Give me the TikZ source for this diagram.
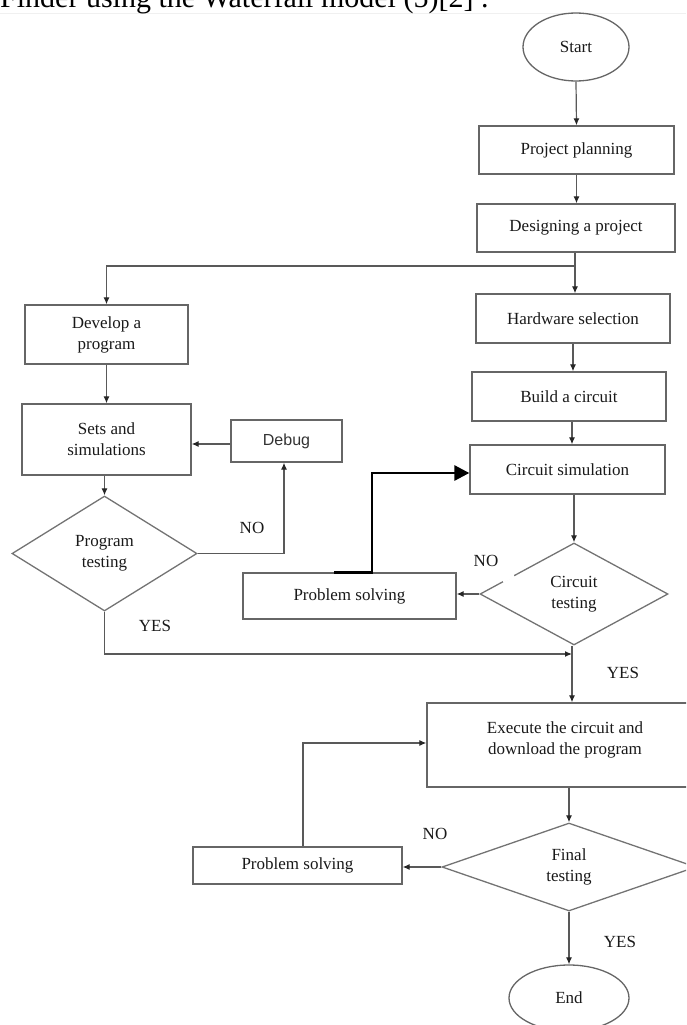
\documentclass[tikz,border=0pt]{standalone}
\usepackage{fontspec}
\setmainfont{Liberation Serif}
\newfontfamily\debugfont{Liberation Sans}
\usetikzlibrary{shapes.geometric,arrows.meta}
\begin{document}
\begin{tikzpicture}[x=1pt,y=-1pt,
  txt/.style={font=\fontsize{17}{21}\selectfont, text=black!90, align=center},
  box/.style={draw=black!60, line width=1.3pt, rectangle, inner sep=0pt, txt},
  oval/.style={draw=black!60, line width=1.3pt, ellipse, inner sep=0pt, txt},
  dec/.style={draw=black!55, line width=1.3pt, diamond, inner sep=0pt, txt},
  lbl/.style={txt, inner sep=0pt},
  arr/.style={draw=black!65, line width=1.2pt, -{Latex[length=7pt,width=6pt,color=black!85]}},
  plain/.style={draw=black!65, line width=1.2pt},
  thickarr/.style={draw=black, line width=2.8pt, -{Triangle[length=15pt,width=15pt]}}
]
\useasboundingbox (0,0) rectangle (686,1025);
\clip (0,0) rectangle (686,1025);
\draw[black!6, line width=1.5pt] (0,13.5) -- (686,13.5);
\node[anchor=base west, inner sep=0pt, font=\fontsize{30}{30}\selectfont] (title) at (0,7.5) {Finder using the Waterfall model (5)[2] .};

% right column
\node[oval, minimum width=106, minimum height=68] (start) at (576,47) {Start};
\node[box, minimum width=195, minimum height=48] (pp) at (576.5,150) {Project planning};
\node[box, minimum width=198, minimum height=48] (dp) at (576,228) {Designing a project};
\node[box, minimum width=194, minimum height=49] (hs) at (573,318.5) {Hardware selection};
\node[box, minimum width=194, minimum height=49] (bc) at (569,396.5) {Build a circuit};
\node[box, minimum width=195, minimum height=49] (cs) at (567.5,469.5) {Circuit simulation};
\node[dec, minimum width=188, minimum height=102] (ct) at (574,594) {Circuit\\testing};
\node[box, minimum width=213, minimum height=46] (ps1) at (349.5,596) {Problem solving};
\node[box, minimum width=276, minimum height=84] (exe) at (565,745) {};
\node[lbl] (exetext) at (565,740) {Execute the circuit and\\download the program};
\node[dec, minimum width=254, minimum height=88] (fin) at (569,867) {Final\\testing};
\node[box, minimum width=209, minimum height=37] (ps2) at (297.5,865.5) {Problem solving};
\node[oval, minimum width=120, minimum height=66] (end) at (569,998) {End};

% left column
\node[box, minimum width=163, minimum height=59] (dev) at (106.5,334.5) {Develop a\\program};
\node[box, minimum width=169, minimum height=71] (sets) at (106.5,439.5) {Sets and\\simulations};
\node[box, minimum width=111, minimum height=42, font=\debugfont\fontsize{16}{18}\selectfont, text=black!80] (debug) at (286.5,441) {Debug};
\node[dec, minimum width=185, minimum height=115] (pt) at (104.5,553.5) {Program\\testing};

% labels
\node[lbl] (no1) at (252,528) {NO};
\node[lbl] (yes1) at (155,626) {YES};
\node[lbl] (no2) at (486,561) {NO};
\node[lbl] (yes2) at (623,673) {YES};
\node[lbl] (no3) at (435,834) {NO};
\node[lbl] (yes3) at (620,942) {YES};

% gap in circuit testing edge
\draw[white, line width=3pt] (503,581.5) -- (514,575.6);

% connectors
\coordinate (j1) at (575,266);
\coordinate (m) at (572,654);
\draw[arr] (start.south) -- (pp.north);
\draw[arr] (pp.south) -- (pp.south |- dp.north);
\draw[plain] (j1 |- dp.south) -- (j1);
\draw[arr] (j1) -| (dev.north);
\draw[arr] (j1) -- (j1 |- hs.north);
\draw[arr] (hs.south) -- (hs.south |- bc.north);
\draw[arr] ([xshift=3pt]bc.south) -- ([xshift=3pt]bc.south |- cs.north);
\draw[arr] (ct.north |- cs.south) -- (ct.north);
\draw[arr] (ct.west) -- (ct.west -| ps1.east);
\draw[thickarr] ([xshift=-15.5pt]ps1.north) -- ([xshift=22.5pt]ps1.north) |- ([yshift=-3.5pt]cs.west);
\draw[arr] (dev.south) -- (dev.south |- sets.north);
\draw[arr] (pt.north |- sets.south) -- (pt.north);
\draw[arr] ([yshift=-3pt]debug.west) -- ([yshift=-3pt]debug.west -| sets.east);
\draw[arr] (pt.east) -| ([xshift=-2.5pt]debug.south);
\draw[arr] (pt.south) |- (m);
\draw[arr] (m |- ct.south) -- (m |- exe.north);
\draw[arr] (fin.north |- exe.south) -- (fin.north);
\draw[arr] (fin.west) -- (fin.west -| ps2.east);
\draw[arr] ([xshift=5.5pt]ps2.north) |- (exe.west |- 0,743);
\draw[arr] (fin.south) -- (end.north);
\end{tikzpicture}
\end{document}
